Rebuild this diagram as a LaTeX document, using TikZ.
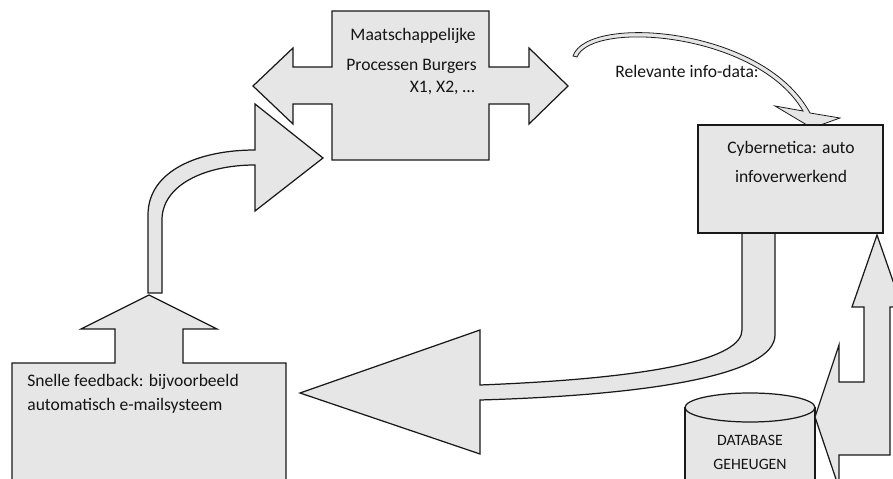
\documentclass[tikz,border=0pt]{standalone}
\usepackage{fontspec}
\setmainfont{Carlito}
\definecolor{blokgrijs}{RGB}{230,230,230}
\definecolor{randlijn}{RGB}{25,25,25}
\definecolor{tekstgrijs}{RGB}{20,20,20}

\begin{document}
\begin{tikzpicture}[x=0.02cm,y=-0.02cm,
    blok/.style={fill=blokgrijs,draw=randlijn,line width=0.7pt,line join=miter},
    tekst/.style={font=\fontsize{10}{12}\selectfont,text=tekstgrijs,inner sep=0pt},
    kleintekst/.style={tekst,font=\fontsize{9}{11}\selectfont}]
  \useasboundingbox (0,0) rectangle (893,479);
  \clip (0,0) rectangle (893,479);
  % maatschappelijke processen, pijl naar beide kanten
  \draw[blok] (253,86) -- (293,48) -- (293,67) -- (332,67) -- (332,11) -- (489,11) -- (489,67)
    -- (529,67) -- (529,48) -- (568,86) -- (529,124) -- (529,104) -- (489,104) -- (489,160)
    -- (332,160) -- (332,104) -- (293,104) -- (293,124) -- cycle;
  \node[tekst,anchor=base east] (maat1) at (476,40.5) {Maatschappelijke};
  \node[tekst,anchor=base east] (maat2) at (477,70.5) {Processen Burgers};
  \node[tekst,anchor=base east] (maat3) at (475,92.5) {X1, X2, …};
  % dunne gebogen pijl
  \draw[blok,line width=0.45pt] (573,56) .. controls (587,14) and (763,26) .. (810,113) -- (840,118)
    -- (812,128) -- (775,106) -- (803,111) .. controls (757,32) and (592,20) .. (577,57) -- cycle;
  \node[tekst,anchor=base west] (relevant) at (615,78) {Relevante info-data:};
  % terugkoppeling naar links
  \draw[blok] (742,233) -- (742,330) .. controls (742,358) and (660,378) .. (480,385) -- (480,330)
    -- (300,393) -- (480,454) -- (480,400) .. controls (650,395) and (775,375) .. (775,335) -- (775,233);
  % cybernetica
  \draw[blok] (698,125) rectangle (883,233);
  \node[tekst,anchor=base] (cyb1) at (791,154) {Cybernetica: auto};
  \node[tekst,anchor=base] (cyb2) at (791,183) {infoverwerkend};
  % pijl omhoog naar maatschappij
  \draw[blok] (148,293) -- (148,215) .. controls (148,170) and (200,150) .. (255,150) -- (255,104)
    -- (323,158) -- (255,211) -- (255,165) .. controls (205,165) and (162,185) .. (162,220)
    -- (162,293) -- cycle;
  % snelle feedback
  \draw[blok] (12,495) -- (12,363) -- (115,363) -- (115,329) -- (81,329) -- (149,295) -- (217,329)
    -- (183,329) -- (183,363) -- (286,363) -- (286,495);
  \node[tekst,anchor=base west] (snel1) at (27,387) {Snelle feedback: bijvoorbeeld};
  \node[tekst,anchor=base west] (snel2) at (27,411) {automatisch e-mailsysteem};
  % database
  \draw[blok] (685,407.5) -- (685,495) -- (815,495) -- (815,407.5);
  \draw[blok] (750,407.5) ellipse [x radius=65,y radius=14.5];
  \node[kleintekst,anchor=base] (db1) at (750,446) {DATABASE};
  \node[kleintekst,anchor=base] (db2) at (750,470) {GEHEUGEN};
  % pijl links en omhoog
  \draw[blok] (815,417) -- (839,345) -- (839,382) -- (864,382) -- (864,307) -- (852,307) -- (877,235)
    -- (902,307) -- (890,307) -- (890,455) -- (839,455) -- (839,488) -- cycle;
\end{tikzpicture}
\end{document}
